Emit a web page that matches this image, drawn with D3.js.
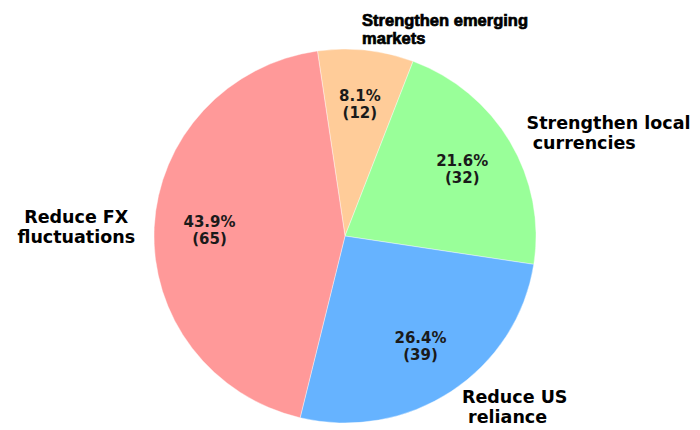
<!DOCTYPE html>
<html>
<head>
<meta charset="utf-8">
<script src="https://cdn.jsdelivr.net/npm/d3@7"></script>
<style>
	html, body { margin: 0; padding: 0; background: #fff; }
	text { white-space: pre; }
</style>
</head>
<body>
<svg id="chart" width="700" height="430"></svg>
<script>
	// data
	var categories = ["Strengthen emerging markets", "Strengthen local currencies", "Reduce US reliance", "Reduce FX fluctuations"];
	var labelLines = [["Strengthen emerging", "markets"], ["Strengthen local", " currencies"], ["Reduce US", " reliance"], ["Reduce FX", "fluctuations"]];
	var counts = [12, 32, 39, 65];
	var colors = ["#ffcc99", "#99ff99", "#66b3ff", "#ff9999"];

	var svg = d3.select("#chart"),
		cx = 345,
		cy = 236,
		rx = 191,
		ry = 187,
		total = d3.sum(counts);

	var pie = d3.pie()
		.sort(null)
		.startAngle(-8.3 * Math.PI / 180)
		.endAngle((360 - 8.3) * Math.PI / 180);
	var arcs = pie(counts);

	var arc = d3.arc().innerRadius(0).outerRadius(rx);

	// slight vertical squash like the picture
	svg.append("g")
		.attr("transform", "translate(" + cx + "," + cy + ") scale(1," + (ry / rx) + ")")
		.selectAll("path")
		.data(arcs)
		.enter().append("path")
		.attr("d", arc)
		.attr("fill", function(d, i) { return colors[i]; })
		.attr("stroke", "#fff")
		.attr("stroke-width", 0.4);

	function pos(d, k) {
		var a = (d.startAngle + d.endAngle) / 2;
		return [cx + k * rx * Math.sin(a), cy - k * ry * Math.cos(a), a];
	}

	// percentage labels
	arcs.forEach(function(d, i) {
		var p = pos(d, 0.71);
		var t = svg.append("text")
			.attr("text-anchor", "middle")
			.attr("font-family", "DejaVu Sans")
			.attr("font-weight", "bold")
			.attr("font-size", 15)
			.attr("fill", "#1a1a1a");
		var lines = [d3.format(".1f")(counts[i] / total * 100) + "%", "(" + counts[i] + ")"];
		lines.forEach(function(s, j) {
			t.append("tspan")
				.attr("x", p[0])
				.attr("y", p[1] + (j - (lines.length - 1) / 2) * 17 + 5.5)
				.text(s);
		});
	});

	// category labels
	arcs.forEach(function(d, i) {
		var p = pos(d, 1.1),
			right = Math.sin(p[2]) >= 0,
			first = i === 0,
			fs = first ? 16.5 : 17.5,
			lh = first ? 18 : 20.5,
			lines = labelLines[i];
		if (first) { p[0] -= 6; p[1] -= 2; }
		var t = svg.append("text")
			.attr("font-family", first ? "Liberation Sans" : "DejaVu Sans")
			.attr("font-weight", "bold")
			.attr("font-size", fs)
			.attr("fill", "#000")
			.attr("stroke", first ? "#000" : "none")
			.attr("stroke-width", first ? 0.7 : 0);
		var spans = lines.map(function(s, j) {
			return t.append("tspan")
				.attr("y", p[1] + (j - (lines.length - 1) / 2) * lh + fs * 0.36)
				.text(s);
		});
		if (right) {
			spans.forEach(function(sp) { sp.attr("x", p[0]); });
		} else {
			// block ends at the anchor, lines centred inside it
			var w = d3.max(spans, function(sp) { return sp.node().getComputedTextLength(); });
			spans.forEach(function(sp) {
				sp.attr("text-anchor", "middle").attr("x", p[0] - w / 2);
			});
		}
	});
</script>
</body>
</html>
